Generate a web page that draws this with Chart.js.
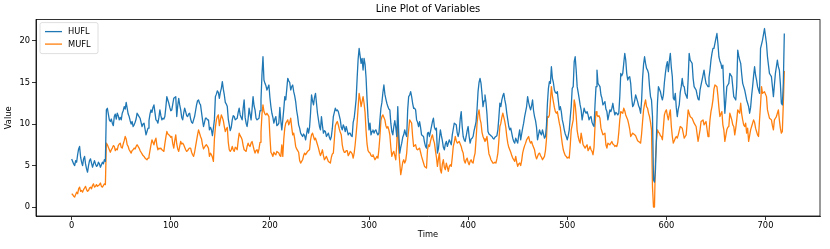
<!DOCTYPE html>
<html>
<head>
<meta charset="utf-8">
<script src="https://cdn.jsdelivr.net/npm/chart.js@4.4.0/dist/chart.umd.min.js"></script>
<style>
  html, body { margin: 0; padding: 0; background: #fff; }
  #wrap { width: 830px; height: 249px; }
</style>
</head>
<body>
<div id="wrap"><canvas id="chart" width="830" height="249"></canvas></div>
<script>
// HUFL, one value per hour (t = 0..719)
const hufl = [
  5.8, 5.5, 5.2, 5.0, 5.6, 5.4, 6.3, 7.0, 7.3, 6.0,
  5.4, 5.0, 5.8, 6.1, 5.2, 4.6, 4.2, 5.0, 5.6, 5.8,
  5.3, 4.8, 5.2, 5.6, 5.2, 4.9, 5.0, 5.4, 5.2, 4.8,
  5.1, 5.4, 5.2, 5.7, 5.5, 11.7, 11.9, 11.2, 10.5, 10.3,
  10.6, 10.1, 9.8, 10.9, 11.2, 10.6, 11.3, 11.0, 10.5, 10.8,
  10.5, 11.3, 11.6, 12.1, 11.8, 12.6, 11.9, 11.2, 10.9, 10.4,
  10.0, 10.3, 9.7, 9.9, 10.2, 10.6, 11.3, 11.1, 10.9, 10.7,
  10.2, 9.7, 10.0, 10.1, 9.4, 8.7, 9.1, 9.5, 10.4, 11.2,
  11.7, 11.4, 12.0, 12.3, 11.4, 10.5, 10.4, 10.1, 10.8, 11.7,
  11.0, 10.5, 10.7, 10.6, 10.9, 12.0, 13.3, 12.9, 12.5, 12.0,
  11.6, 11.7, 12.4, 13.1, 13.2, 13.3, 10.9, 12.2, 13.1, 12.3,
  11.7, 10.8, 10.5, 11.3, 11.9, 11.5, 11.0, 10.9, 11.2, 11.3,
  10.6, 10.2, 10.1, 10.5, 10.9, 11.6, 12.3, 12.8, 12.9, 12.5,
  12.3, 11.4, 10.5, 9.7, 10.2, 10.7, 10.7, 10.5, 10.5, 9.3,
  9.6, 9.3, 8.6, 9.5, 10.5, 13.3, 13.6, 14.0, 13.8, 13.1,
  13.8, 14.3, 15.1, 14.2, 13.5, 12.6, 12.4, 12.1, 10.6, 9.9,
  9.2, 9.6, 10.5, 11.0, 10.9, 10.5, 10.6, 10.7, 11.4, 11.9,
  11.1, 10.8, 10.5, 11.9, 12.9, 10.8, 10.1, 9.7, 10.6, 11.9,
  11.2, 10.5, 11.8, 13.3, 12.2, 11.7, 10.7, 10.5, 10.6, 10.7,
  11.6, 12.9, 16.0, 18.1, 15.3, 14.9, 14.6, 14.1, 14.4, 14.7,
  13.2, 12.1, 11.3, 10.8, 10.1, 10.6, 10.9, 9.8, 9.9, 10.1,
  12.0, 10.4, 9.3, 10.5, 11.8, 13.3, 12.9, 14.2, 15.5, 15.2,
  15.0, 14.1, 14.5, 14.7, 13.9, 13.4, 12.7, 11.6, 10.9, 9.9,
  9.5, 8.9, 8.7, 8.5, 8.8, 8.6, 8.1, 8.8, 9.5, 8.9,
  9.6, 11.3, 13.5, 12.8, 12.3, 13.2, 13.7, 12.5, 11.3, 10.5,
  9.7, 9.3, 10.9, 9.8, 8.9, 9.2, 9.1, 8.5, 8.7, 8.9,
  8.4, 8.1, 8.5, 9.5, 10.9, 11.4, 11.9, 11.6, 11.7, 11.5,
  11.0, 10.5, 9.6, 9.3, 9.9, 9.6, 9.1, 9.7, 9.2, 8.7,
  8.9, 8.9, 8.6, 8.5, 10.2, 10.7, 11.8, 13.0, 15.5, 17.8,
  19.1, 18.2, 17.3, 17.9, 16.5, 17.9, 17.2, 15.6, 13.0, 10.8,
  9.3, 10.1, 8.7, 9.1, 9.3, 8.9, 9.2, 9.3, 8.9, 8.7,
  8.9, 10.5, 11.9, 12.6, 13.8, 14.7, 13.6, 13.0, 12.5, 12.1,
  11.8, 11.7, 10.1, 9.1, 8.7, 9.7, 10.4, 9.6, 8.5, 12.1,
  8.8, 6.5, 7.2, 7.7, 8.4, 8.7, 9.3, 8.8, 8.5, 11.7,
  13.3, 13.5, 13.9, 13.3, 12.5, 11.9, 11.9, 11.7, 10.5, 10.2,
  9.7, 10.3, 9.6, 8.7, 8.6, 8.5, 7.8, 7.3, 7.1, 8.9,
  9.0, 8.5, 9.1, 9.7, 10.3, 10.7, 9.6, 9.3, 9.5, 6.5,
  7.0, 8.2, 9.3, 8.6, 8.0, 7.2, 6.9, 7.6, 7.9, 7.3,
  7.7, 8.1, 7.8, 7.5, 8.7, 9.4, 10.1, 10.0, 9.9, 8.9,
  8.5, 9.1, 10.6, 11.5, 9.7, 8.5, 8.1, 7.9, 8.5, 9.2,
  9.7, 8.5, 7.7, 8.2, 8.3, 8.5, 9.2, 9.7, 10.3, 11.8,
  13.9, 15.0, 15.5, 14.9, 13.6, 12.1, 12.8, 13.5, 12.6, 11.2,
  9.1, 8.8, 8.7, 8.6, 8.5, 8.3, 8.2, 8.4, 8.5, 8.6,
  9.3, 10.8, 12.5, 12.1, 12.9, 13.4, 13.7, 12.9, 12.3, 11.3,
  10.5, 9.7, 9.3, 9.5, 8.9, 8.3, 7.9, 7.7, 8.3, 8.0,
  7.7, 8.6, 9.3, 8.1, 8.8, 9.5, 10.1, 10.9, 11.5, 12.1,
  13.3, 12.6, 12.1, 11.7, 12.2, 12.9, 11.6, 10.9, 10.4, 9.6,
  8.1, 8.7, 9.3, 8.9, 8.7, 9.3, 8.8, 8.3, 8.5, 9.8,
  12.5, 14.3, 15.1, 14.9, 16.9, 15.5, 15.0, 14.1, 13.8, 13.7,
  13.9, 12.8, 11.7, 12.1, 11.5, 10.5, 10.0, 9.3, 8.8, 8.5,
  8.1, 8.6, 9.3, 10.8, 12.1, 14.3, 14.5, 17.5, 18.1, 16.5,
  14.5, 13.8, 13.1, 12.3, 11.7, 10.5, 11.2, 11.9, 11.5, 11.3,
  11.5, 11.1, 10.5, 10.8, 10.9, 10.2, 9.9, 9.7, 12.3, 14.5,
  16.5, 14.9, 14.7, 14.5, 13.5, 13.1, 12.3, 12.5, 12.7, 11.8,
  11.5, 10.5, 11.1, 11.7, 11.5, 11.9, 12.5, 11.7, 11.1, 11.4,
  11.3, 11.1, 11.3, 13.3, 16.1, 15.8, 16.1, 17.3, 18.5, 17.7,
  16.1, 15.3, 15.6, 15.7, 14.9, 13.2, 12.1, 12.3, 12.8, 13.5,
  13.1, 12.7, 12.2, 11.9, 11.3, 12.8, 15.5, 17.2, 18.1, 17.3,
  16.7, 16.5, 16.1, 14.5, 13.3, 12.9, 10.9, 3.3, 3.0, 4.5,
  8.5, 12.5, 14.5, 14.2, 13.9, 13.3, 12.9, 13.5, 15.0, 16.1,
  17.0, 17.5, 16.3, 17.6, 18.5, 16.8, 15.7, 13.1, 12.9, 13.7,
  12.0, 10.9, 11.8, 12.3, 13.8, 14.5, 15.5, 14.6, 14.5, 13.7,
  13.4, 13.1, 15.5, 18.5, 17.7, 17.5, 17.3, 15.5, 14.5, 14.3,
  14.1, 13.5, 13.0, 12.9, 14.1, 14.7, 15.3, 15.9, 16.5, 15.6,
  14.9, 14.7, 14.5, 15.6, 16.5, 17.7, 18.5, 19.1, 19.1, 19.7,
  20.3, 20.9, 19.7, 18.1, 17.6, 17.3, 16.7, 17.1, 14.0, 11.3,
  12.9, 14.5, 14.7, 14.9, 16.1, 15.9, 15.7, 14.5, 13.3, 13.1,
  12.9, 14.5, 18.9, 18.2, 17.7, 17.3, 16.0, 14.9, 14.5, 14.1,
  13.5, 12.9, 12.5, 12.1, 11.3, 12.0, 13.4, 14.5, 15.8, 16.9,
  15.9, 15.3, 14.5, 14.1, 13.7, 19.1, 19.6, 20.1, 20.8, 21.5,
  20.6, 19.7, 18.1, 17.1, 16.1, 15.9, 15.7, 14.5, 13.3, 14.7,
  16.1, 16.9, 17.7, 16.9, 16.5, 14.9, 12.5, 12.3, 14.9, 20.9
];

// MUFL, same hours
const mufl = [
  1.6, 1.5, 1.3, 1.2, 1.5, 1.8, 1.6, 2.2, 2.4, 1.9,
  2.0, 1.8, 2.1, 2.3, 2.5, 2.1, 1.9, 2.0, 2.3, 2.4,
  2.2, 2.6, 2.8, 2.4, 2.5, 2.7, 2.5, 2.6, 2.7, 2.9,
  2.5, 2.4, 2.6, 2.8, 2.7, 7.7, 7.5, 7.2, 6.9, 6.6,
  6.9, 7.1, 7.4, 7.3, 6.8, 7.0, 6.9, 7.4, 7.6, 7.7,
  7.2, 7.1, 7.6, 8.0, 8.5, 8.2, 7.5, 7.3, 6.9, 6.7,
  6.5, 6.8, 6.9, 7.1, 7.0, 7.3, 7.5, 7.3, 7.1, 6.8,
  6.6, 6.4, 6.2, 6.1, 5.9, 5.8, 5.7, 5.9, 6.1, 6.8,
  7.5, 8.1, 7.8, 7.5, 8.0, 8.3, 7.4, 6.9, 7.1, 7.0,
  7.1, 6.9, 6.8, 6.7, 7.6, 8.4, 9.1, 8.8, 8.7, 8.6,
  8.4, 8.5, 7.6, 7.1, 8.0, 8.7, 7.6, 7.0, 6.7, 7.3,
  7.9, 7.6, 7.7, 7.5, 7.2, 6.9, 6.7, 6.8, 7.0, 7.1,
  7.1, 6.6, 6.3, 6.1, 6.6, 7.3, 8.0, 8.7, 9.3, 8.9,
  8.5, 8.2, 7.5, 7.0, 7.2, 7.4, 7.5, 7.3, 7.1, 6.1,
  6.5, 6.3, 6.0, 5.5, 8.2, 9.6, 10.5, 10.9, 11.1, 9.8,
  10.5, 11.1, 10.8, 10.4, 9.7, 9.1, 9.4, 9.6, 7.8, 6.9,
  6.7, 6.9, 7.3, 6.9, 6.7, 7.2, 7.1, 6.9, 8.0, 8.9,
  8.6, 8.4, 8.1, 7.4, 6.9, 6.8, 6.7, 7.3, 7.7, 7.4,
  7.3, 7.7, 7.9, 7.4, 6.9, 6.5, 6.8, 6.9, 6.5, 7.0,
  7.8, 9.0, 11.2, 12.3, 11.5, 11.2, 11.1, 11.3, 11.1, 10.9,
  8.5, 6.6, 6.4, 6.1, 6.6, 6.4, 6.3, 6.7, 6.6, 6.5,
  6.2, 6.1, 7.5, 6.1, 8.2, 9.5, 10.1, 10.3, 10.5, 9.9,
  10.2, 10.7, 9.6, 8.7, 8.9, 8.2, 7.3, 7.0, 6.8, 6.6,
  5.6, 5.3, 5.5, 5.7, 6.2, 6.5, 6.3, 6.5, 6.7, 6.8,
  6.9, 8.1, 8.7, 8.9, 8.5, 8.1, 8.3, 7.9, 7.5, 7.1,
  6.6, 6.2, 6.5, 6.9, 6.2, 5.7, 5.9, 6.1, 5.8, 5.5,
  5.4, 5.3, 6.0, 6.4, 6.5, 8.1, 9.8, 10.1, 10.3, 9.9,
  9.4, 9.0, 8.7, 7.5, 6.9, 6.6, 6.6, 6.8, 6.8, 6.2,
  6.4, 6.7, 6.6, 6.4, 5.9, 6.5, 7.5, 8.8, 10.2, 12.0,
  13.7, 13.0, 12.1, 12.7, 13.3, 12.5, 11.4, 9.2, 7.6, 6.8,
  6.6, 6.5, 6.2, 6.1, 6.3, 6.0, 5.7, 5.9, 6.1, 5.9,
  7.0, 8.5, 10.4, 10.9, 11.1, 10.8, 10.5, 9.8, 9.5, 9.7,
  9.3, 8.7, 7.2, 6.1, 6.5, 6.7, 6.2, 5.7, 7.6, 10.5,
  6.9, 5.3, 3.9, 4.6, 5.4, 5.7, 5.3, 5.6, 6.5, 8.2,
  9.3, 10.5, 10.3, 10.1, 8.5, 7.3, 7.4, 7.5, 7.0, 6.9,
  7.0, 7.1, 6.6, 6.1, 5.7, 5.3, 4.9, 4.8, 4.7, 6.9,
  7.5, 7.3, 7.9, 8.4, 8.7, 8.1, 7.7, 6.8, 6.0, 4.9,
  5.8, 6.5, 4.5, 4.1, 5.2, 5.7, 4.8, 4.5, 5.3, 4.8,
  4.3, 4.9, 5.1, 4.9, 6.0, 7.3, 7.8, 8.5, 8.0, 7.7,
  7.8, 7.9, 7.6, 7.3, 6.8, 6.5, 5.6, 5.3, 5.7, 5.9,
  5.4, 5.1, 5.5, 5.7, 5.4, 5.3, 6.0, 6.5, 8.2, 10.1,
  11.2, 11.7, 10.6, 10.1, 9.0, 8.5, 8.2, 7.9, 8.1, 8.5,
  7.4, 6.4, 6.1, 5.7, 5.5, 5.3, 5.3, 5.4, 5.3, 5.8,
  6.5, 8.0, 9.7, 10.1, 10.8, 11.3, 10.8, 10.3, 9.6, 8.5,
  7.7, 7.2, 6.9, 6.6, 6.2, 5.9, 5.7, 5.5, 6.1, 5.4,
  4.9, 5.2, 5.3, 5.0, 5.6, 6.5, 7.0, 7.4, 7.7, 8.1,
  8.3, 8.5, 8.0, 7.7, 7.9, 7.5, 7.2, 6.9, 6.2, 5.8,
  6.1, 6.4, 6.5, 6.2, 6.0, 5.7, 5.9, 6.1, 6.8, 8.1,
  10.9, 10.8, 11.1, 12.8, 14.5, 13.4, 12.7, 12.0, 11.5, 11.3,
  11.5, 10.8, 10.1, 9.6, 8.5, 7.6, 6.9, 6.5, 6.2, 6.1,
  5.9, 6.0, 5.9, 7.4, 9.3, 9.9, 10.5, 12.9, 12.3, 11.0,
  9.2, 8.5, 8.0, 7.7, 8.9, 8.2, 7.5, 7.3, 7.1, 7.3,
  7.5, 6.8, 7.0, 7.3, 6.9, 6.7, 6.3, 7.2, 9.8, 11.5,
  11.1, 10.9, 11.0, 10.7, 9.5, 9.1, 8.7, 8.8, 8.9, 7.5,
  7.1, 7.7, 7.6, 7.5, 7.7, 7.9, 7.6, 7.5, 7.3, 7.4,
  7.3, 7.8, 9.0, 10.5, 11.5, 11.4, 11.3, 11.9, 11.6, 11.1,
  10.8, 10.5, 10.0, 9.4, 8.5, 8.7, 8.9, 8.8, 8.7, 8.6,
  8.3, 8.0, 7.9, 7.8, 7.7, 8.8, 10.3, 11.7, 12.4, 12.9,
  12.1, 11.9, 11.3, 10.9, 10.2, 9.3, 2.4, 0.0, 0.0, 5.7,
  8.0, 9.3, 9.0, 8.9, 8.6, 8.5, 8.1, 9.6, 11.1, 11.5,
  11.7, 11.0, 10.5, 11.2, 11.7, 9.7, 8.5, 7.7, 8.0, 8.3,
  8.5, 8.3, 8.7, 9.2, 9.7, 9.6, 9.5, 8.9, 8.3, 8.5,
  8.7, 10.2, 11.7, 11.3, 10.9, 10.8, 10.7, 10.4, 10.1, 9.9,
  9.7, 8.8, 7.9, 8.6, 9.3, 10.3, 10.4, 10.5, 9.9, 10.1,
  10.3, 9.4, 8.5, 9.0, 10.5, 11.5, 12.1, 12.9, 14.2, 14.7,
  14.6, 14.5, 13.4, 12.0, 10.9, 11.2, 11.5, 9.9, 9.3, 7.9,
  8.6, 9.3, 9.6, 9.7, 11.3, 10.9, 10.5, 9.9, 9.7, 8.7,
  9.5, 10.5, 11.7, 11.5, 11.3, 12.5, 11.2, 10.5, 9.9, 9.7,
  10.1, 8.9, 9.5, 7.9, 8.6, 9.3, 9.7, 10.1, 10.5, 10.2,
  9.5, 9.1, 8.7, 8.5, 10.5, 12.3, 14.5, 13.7, 13.8, 13.9,
  13.6, 13.3, 11.7, 11.2, 10.7, 10.6, 10.5, 9.8, 9.3, 10.5,
  10.7, 10.9, 11.3, 11.7, 10.5, 9.5, 8.9, 9.1, 12.5, 16.4
];

const xTicks = [0, 100, 200, 300, 400, 500, 600, 700];
const yTicks = [0, 5, 10, 15, 20];

const FONT = '"DejaVu Sans", "Liberation Sans", sans-serif';

// hour index for each reading
const time = hufl.map((_, i) => i);
const toPoints = vals => vals.map((v, i) => ({ x: time[i], y: v }));

// matplotlib-style frame + legend inside the axes
const frameAndLegend = {
    id: 'frameAndLegend',
    afterDatasetsDraw(chart) {
        const { ctx, chartArea: a } = chart;
        ctx.save();
        ctx.strokeStyle = '#000';
        ctx.lineWidth = 0.8;
        ctx.strokeRect(a.left, a.top, a.right - a.left, a.bottom - a.top);

        const x0 = a.left + 4, y0 = a.top + 3, w = 58, h = 31;
        ctx.beginPath();
        if (ctx.roundRect) ctx.roundRect(x0, y0, w, h, 2);
        else ctx.rect(x0, y0, w, h);
        ctx.fillStyle = 'rgba(255,255,255,0.8)';
        ctx.fill();
        ctx.strokeStyle = '#d6d6d6';
        ctx.lineWidth = 0.8;
        ctx.stroke();

        chart.data.datasets.forEach((ds, i) => {
            const y = y0 + 9 + i * 12.5;
            ctx.beginPath();
            ctx.moveTo(x0 + 5, y);
            ctx.lineTo(x0 + 22, y);
            ctx.strokeStyle = ds.borderColor;
            ctx.lineWidth = 1.3;
            ctx.stroke();
            ctx.fillStyle = '#000';
            ctx.font = '8.3px ' + FONT;
            ctx.textBaseline = 'middle';
            ctx.textAlign = 'left';
            ctx.fillText(ds.label, x0 + 28, y + 0.5);
        });
        ctx.restore();
    }
};

const tickFont = { family: FONT, size: 8.3 };

new Chart(document.getElementById('chart'), {
    type: 'line',
    data: {
        datasets: [
            { label: 'HUFL', data: toPoints(hufl), borderColor: '#1f77b4' },
            { label: 'MUFL', data: toPoints(mufl), borderColor: '#ff7f0e' }
        ]
    },
    options: {
        responsive: false,
        animation: false,
        devicePixelRatio: 1,
        layout: { padding: { left: 0, right: 10, top: 0, bottom: 0 } },
        elements: {
            line: { borderWidth: 1.3, tension: 0, borderJoinStyle: 'round', fill: false },
            point: { radius: 0 }
        },
        plugins: {
            legend: { display: false },
            tooltip: { enabled: false },
            title: {
                display: true,
                fullSize: false,
                text: 'Line Plot of Variables',
                color: '#000',
                font: { family: FONT, size: 10, weight: 'normal' },
                padding: { top: 3, bottom: 4.6 }
            }
        },
        scales: {
            x: {
                type: 'linear',
                min: -36,
                max: 755,
                afterBuildTicks: s => { s.ticks = xTicks.map(v => ({ value: v })); },
                afterFit: s => { s.height = 33; },
                grid: { drawOnChartArea: false, tickLength: 4, color: '#000', lineWidth: 0.8 },
                border: { color: '#000', width: 0.8 },
                ticks: { color: '#000', font: tickFont, padding: 1, maxRotation: 0, autoSkip: false },
                title: { display: true, text: 'Time', color: '#000', font: tickFont, padding: { top: 0, bottom: 9 } }
            },
            y: {
                min: -1.075,
                max: 22.575,
                afterBuildTicks: s => { s.ticks = yTicks.map(v => ({ value: v })); },
                afterFit: s => { s.width = 36; },
                grid: { drawOnChartArea: false, tickLength: 4, color: '#000', lineWidth: 0.8 },
                border: { color: '#000', width: 0.8 },
                ticks: { color: '#000', font: tickFont, padding: 2 },
                title: { display: true, text: 'Value', color: '#000', font: tickFont, padding: { top: 4, bottom: 0 } }
            }
        }
    },
    plugins: [frameAndLegend]
});
</script>
</body>
</html>
